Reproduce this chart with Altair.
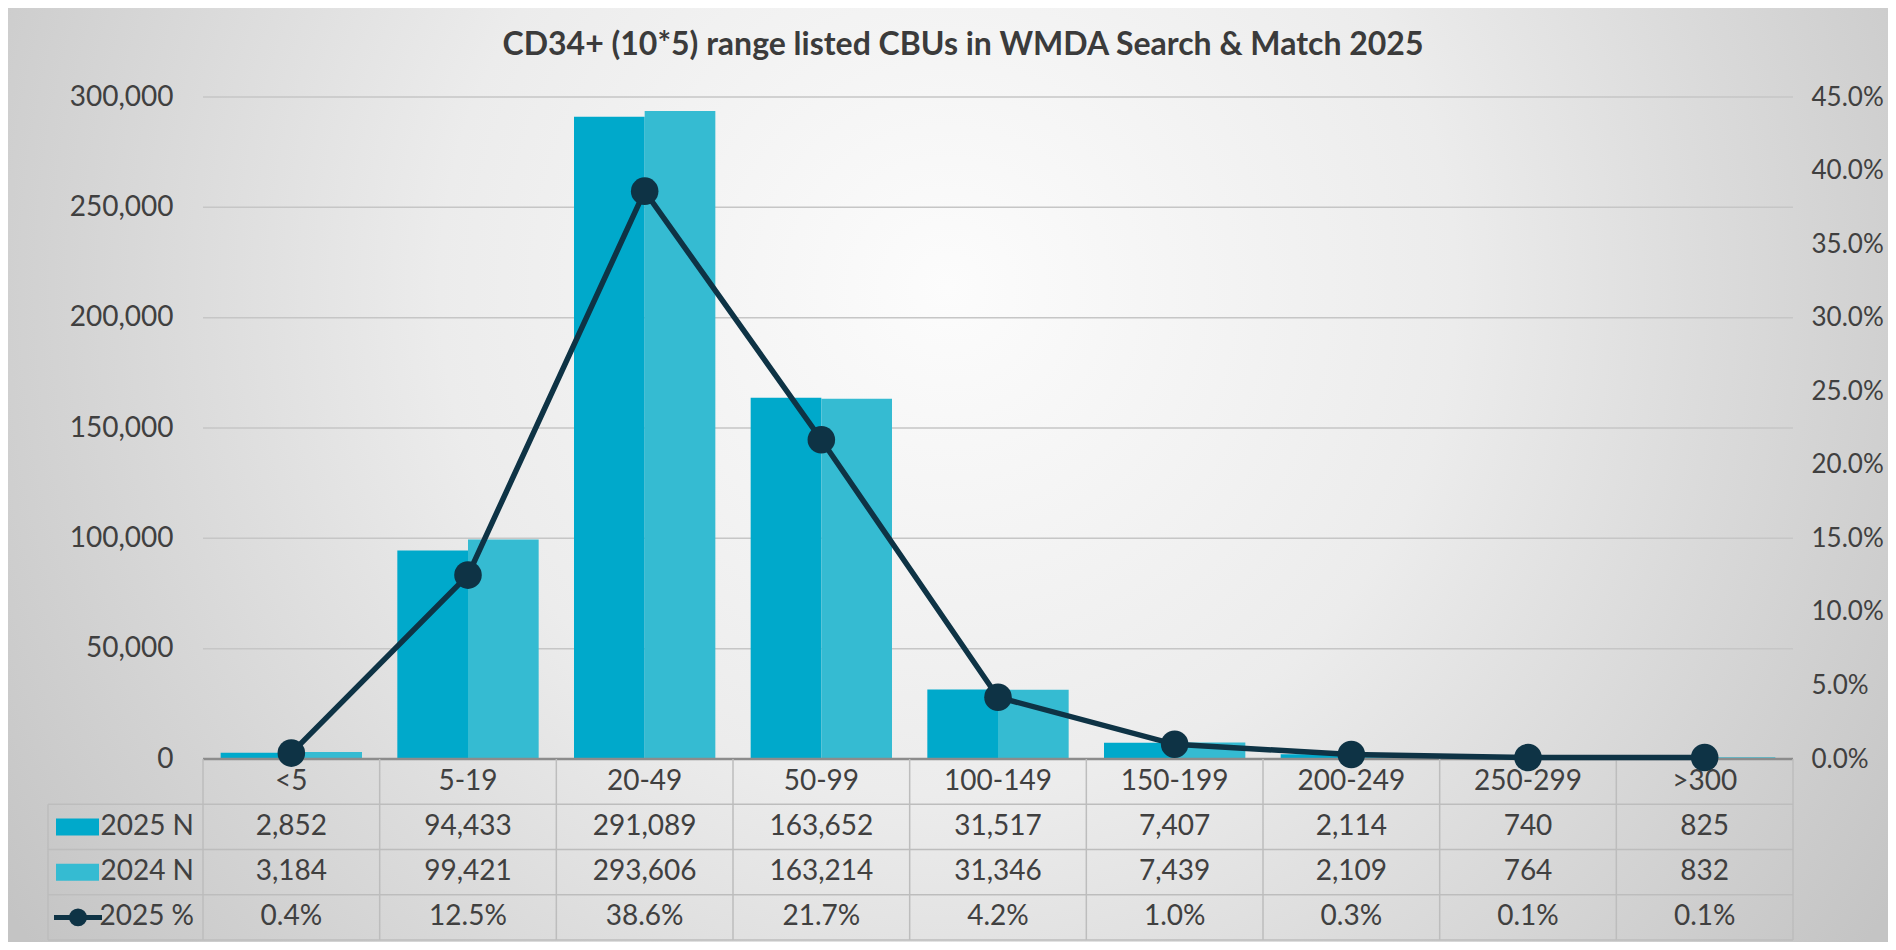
import altair as alt
import pandas as pd

# ---------------- data ----------------
categories = ["<5", "5-19", "20-49", "50-99", "100-149", "150-199", "200-249", "250-299", ">300"]
n_2025 = [2852, 94433, 291089, 163652, 31517, 7407, 2114, 740, 825]
n_2024 = [3184, 99421, 293606, 163214, 31346, 7439, 2109, 764, 832]
pct_2025 = [0.4, 12.5, 38.6, 21.7, 4.2, 1.0, 0.3, 0.1, 0.1]
bar_series = ["2025 N", "2024 N"]
line_series = "2025 %"
left_ticks = [0, 50000, 100000, 150000, 200000, 250000, 300000]
right_ticks = [0, 5, 10, 15, 20, 25, 30, 35, 40, 45]
title_text = "CD34+ (10*5) range listed CBUs in WMDA Search & Match 2025"

# ---------------- styling / layout ----------------
W, H = 1590, 662
PAD = {"left": 195, "top": 89, "right": 95, "bottom": 183}
ROW = 45.25
LEG_X = -155
C25, C24 = "#00A9CB", "#35BBD2"
LINE_C = "#0E3345"
TXT_C = "#404040"
GRID_C = "#c6c6c6"
TAB_C = "#bdbdbd"
FONT = "Lato"
FS = 28

bars_df = pd.DataFrame(
    [{"cat": c, "series": bar_series[0], "value": v} for c, v in zip(categories, n_2025)]
    + [{"cat": c, "series": bar_series[1], "value": v} for c, v in zip(categories, n_2024)]
)
line_df = pd.DataFrame({"cat": categories, "pct": pct_2025})
cat_df = pd.DataFrame({"cat": categories})
grid_df = pd.DataFrame({"v": left_ticks[1:]})
zero_df = pd.DataFrame({"v": [left_ticks[0]]})
one = pd.DataFrame({"k": [0]})


def xcat(**kw):
    return alt.X("cat:N", sort=categories,
                 scale=alt.Scale(domain=categories, paddingInner=0, paddingOuter=0),
                 axis=None, **kw)


color_enc = alt.Color("series:N", scale=alt.Scale(domain=bar_series, range=[C25, C24]), legend=None)
yleft_scale = alt.Scale(domain=[0, 300000], nice=False, zero=True)
yleft_axis = alt.Axis(values=left_ticks, labelExpr="format(datum.value, ',')", orient="left",
                      labelPadding=30, domain=False, ticks=False, grid=False, zindex=1, title=None)
yright_scale = alt.Scale(domain=[0, 45], nice=False)
yright_axis = alt.Axis(values=right_ticks, labelExpr="format(datum.value, '.1f') + '%'",
                       orient="right", labelPadding=18, labelFontSize=26, domain=False,
                       ticks=False, grid=False, zindex=1, title=None)

# background
bg = alt.Chart(one).mark_rect(
    clip=False,
    color=alt.RadialGradient(
        gradient="radial", x1=0.5, y1=0.40, x2=0.5, y2=0.40, r1=0, r2=0.6,
        stops=[alt.GradientStop(offset=0, color="#fcfcfc"),
               alt.GradientStop(offset=0.45, color="#ececec"),
               alt.GradientStop(offset=1, color="#c4c4c4")],
    ),
).encode(x=alt.value(-PAD["left"]), x2=alt.value(W + PAD["right"]),
         y=alt.value(-PAD["top"]), y2=alt.value(H + PAD["bottom"]))

# title as text
title = alt.Chart(one).mark_text(
    font=FONT, fontSize=32, fontWeight="bold", color="#3b3b3b", baseline="middle", align="center"
).encode(x=alt.value(760), y=alt.value(-52), text=alt.value(title_text))

# left-scale group
grid = alt.Chart(grid_df).mark_rule(color=GRID_C, strokeWidth=1.5).encode(
    y=alt.Y("v:Q", scale=yleft_scale, axis=yleft_axis),
    x=alt.value(0), x2=alt.value(W),
)
bars = alt.Chart(bars_df).mark_bar(opacity=1).encode(
    x=xcat(),
    xOffset=alt.XOffset("series:N", sort=bar_series,
                        scale=alt.Scale(domain=bar_series, paddingInner=0, paddingOuter=0.25)),
    y=alt.Y("value:Q", scale=yleft_scale, axis=yleft_axis),
    color=color_enc,
)
axis_line = alt.Chart(zero_df).mark_rule(color="#8c8c8c", strokeWidth=2.5).encode(
    y=alt.Y("v:Q", scale=yleft_scale, axis=yleft_axis), x=alt.value(0), x2=alt.value(W)
)
left_group = alt.layer(grid, bars, axis_line)

# table lines
row_edges = [H + ROW * k for k in range(5)]
tab_layers = []
for yb in row_edges[1:]:
    tab_layers.append(alt.Chart(one).mark_rule(color=TAB_C, strokeWidth=1.5).encode(
        x=alt.value(LEG_X), x2=alt.value(W), y=alt.value(yb)))
tab_layers.append(alt.Chart(cat_df).mark_rule(color=TAB_C, strokeWidth=1.5).encode(
    x=xcat(bandPosition=0), y=alt.value(H), y2=alt.value(row_edges[-1])))
tab_layers.append(alt.Chart(cat_df.tail(1)).mark_rule(color=TAB_C, strokeWidth=1.5).encode(
    x=xcat(bandPosition=1), y=alt.value(H), y2=alt.value(row_edges[-1])))
tab_layers.append(alt.Chart(one).mark_rule(color=TAB_C, strokeWidth=1.5).encode(
    x=alt.value(LEG_X), y=alt.value(row_edges[1]), y2=alt.value(row_edges[-1])))


def row_center(i):
    return H + ROW * i + ROW / 2


# table texts
text_layers = [alt.Chart(cat_df).mark_text(font=FONT, fontSize=FS, color=TXT_C, baseline="middle").encode(
    x=xcat(), y=alt.value(row_center(0)), text="cat:N")]
rows = [
    (bar_series[0], [f"{v:,}" for v in n_2025]),
    (bar_series[1], [f"{v:,}" for v in n_2024]),
    (line_series, [f"{v:.1f}%" for v in pct_2025]),
]
for i, (name, vals) in enumerate(rows, start=1):
    df = pd.DataFrame({"cat": categories, "lab": vals})
    text_layers.append(alt.Chart(df).mark_text(font=FONT, fontSize=FS, color=TXT_C, baseline="middle").encode(
        x=xcat(), y=alt.value(row_center(i)), text="lab:N"))
    text_layers.append(alt.Chart(pd.DataFrame({"lab": [name]})).mark_text(
        font=FONT, fontSize=FS, color=TXT_C, baseline="middle", align="right").encode(
        x=alt.value(-9), y=alt.value(row_center(i)), text="lab:N"))

# legend keys
leg_layers = []
for i, s in enumerate(bar_series, start=1):
    yc = row_center(i)
    leg_layers.append(alt.Chart(pd.DataFrame({"series": [s]})).mark_rect().encode(
        x=alt.value(-147), x2=alt.value(-104), y=alt.value(yc - 8.5), y2=alt.value(yc + 8.5),
        color=color_enc))
yc3 = row_center(3)
leg_layers.append(alt.Chart(one).mark_rule(color=LINE_C, strokeWidth=5).encode(
    x=alt.value(-149), x2=alt.value(-101), y=alt.value(yc3)))
leg_layers.append(alt.Chart(one).mark_circle(color=LINE_C, opacity=1, size=320).encode(
    x=alt.value(-125), y=alt.value(yc3)))

# right-scale group
line = alt.Chart(line_df).mark_line(color=LINE_C, strokeWidth=5.5).encode(
    x=xcat(), y=alt.Y("pct:Q", scale=yright_scale, axis=yright_axis))
pts = alt.Chart(line_df).mark_circle(color=LINE_C, opacity=1, size=760).encode(
    x=xcat(), y=alt.Y("pct:Q", scale=yright_scale, axis=yright_axis))
right_group = alt.layer(line, pts)

chart = alt.layer(
    bg, title, left_group, *tab_layers, *text_layers, *leg_layers, right_group
).resolve_scale(y="independent").properties(
    width=W, height=H,
    autosize=alt.AutoSizeParams(type="none"),
    padding=PAD,
).configure_view(stroke=None).configure_axis(
    labelFont=FONT, labelFontSize=FS, labelColor=TXT_C
)

chart.save("out.html", embed_options={"renderer": "svg", "actions": False})
